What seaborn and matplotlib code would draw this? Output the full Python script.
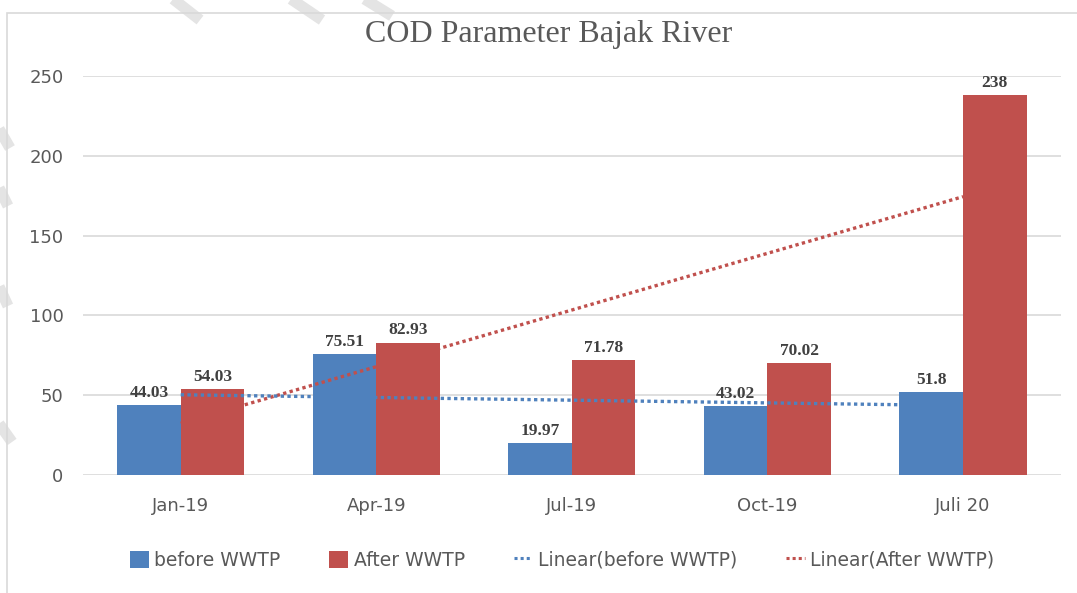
import matplotlib
matplotlib.use('Agg')
import matplotlib.pyplot as plt
from matplotlib.patches import Patch, Rectangle
from matplotlib.lines import Line2D
import pandas as pd
import seaborn as sns
import numpy as np

months = ['Jan-19', 'Apr-19', 'Jul-19', 'Oct-19', 'Juli 20']
before_wwtp = [44.03, 75.51, 19.97, 43.02, 51.8]
after_wwtp = [54.03, 82.93, 71.78, 70.02, 238]
series_names = ['before WWTP', 'After WWTP']

blue = '#4F81BD'
red = '#C0504D'
grey_txt = '#595959'

df = pd.DataFrame({
    'month': months * 2,
    'value': before_wwtp + after_wwtp,
    'series': [series_names[0]] * len(months) + [series_names[1]] * len(months),
})

sns.set_theme(style='white')
plt.rcParams['font.family'] = ['DejaVu Sans']

fig = plt.figure(figsize=(10.77, 5.93), dpi=100)
ax = fig.add_axes([0.077, 0.199, 0.908, 0.673])

group_w = 0.65
sns.barplot(data=df, x='month', y='value', hue='series', palette=[blue, red],
            width=group_w, saturation=1, ax=ax, legend=False, errorbar=None,
            edgecolor='none')

bar_w = group_w / 2
for p in ax.containers[0]:
    p.set_zorder(2)
for p in ax.containers[1]:
    p.set_zorder(3)

# value labels
for cont, vals in zip(ax.containers, [before_wwtp, after_wwtp]):
    ax.bar_label(cont, labels=['{:g}'.format(v) for v in vals], padding=3,
                 fontsize=12.5, fontweight='bold', color='#404040',
                 family='Liberation Serif', zorder=6)

# linear trend lines (Excel style)
xi = np.arange(len(months))
kb = np.polyfit(xi, before_wwtp, 1)
ka = np.polyfit(xi, after_wwtp, 1)
xb = np.array([0, len(months) - 1 - bar_w])
xa = np.array([0, len(months) - 1])
ax.plot(xb, np.polyval(kb, xb), color=blue, lw=2.4, ls=(0, (1, 1)),
        zorder=4, dash_capstyle='butt')
ax.plot(xa, np.polyval(ka, xa), color=red, lw=2.4, ls=(0, (1, 1)),
        zorder=2.5, dash_capstyle='butt')

ax.set_xlim(-0.5, len(months) - 0.5)
ax.set_ylim(0, 250)
ax.set_yticks(range(0, 251, 50))
ax.yaxis.grid(True, color='#d9d9d9', lw=1.2)
ax.set_axisbelow(True)
for s in ax.spines.values():
    s.set_visible(False)
ax.tick_params(axis='both', length=0, labelsize=13, labelcolor=grey_txt)
ax.tick_params(axis='y', pad=14)
ax.tick_params(axis='x', pad=16)
ax.set_xlabel('')
ax.set_ylabel('')

fig.text(0.509, 0.942, 'COD Parameter Bajak River', ha='center', va='center',
         fontsize=23, color=grey_txt, family='Liberation Serif')

handles = [
    Patch(facecolor=blue, edgecolor='none'),
    Patch(facecolor=red, edgecolor='none'),
    Line2D([], [], color=blue, lw=2.2, ls=(0, (1, 1))),
    Line2D([], [], color=red, lw=2.2, ls=(0, (1, 1))),
]
labels = ['before WWTP', 'After WWTP', 'Linear(before WWTP)', 'Linear(After WWTP)']
fig.legend(handles, labels, loc='center', bbox_to_anchor=(0.522, 0.055), ncol=4,
           frameon=False, fontsize=13.5, labelcolor=grey_txt, handlelength=1.0,
           handleheight=1.0, handletextpad=0.3, columnspacing=2.6)

# chart frame
fig.add_artist(Rectangle((7 / 1077, -0.01), 1.02, 1 - 13 / 593 + 0.01,
                         transform=fig.transFigure, fill=False,
                         edgecolor='#d9d9d9', lw=1.2))

# faint diagonal watermark strokes
strokes = [((168, -5), (200, 20)), ((285, -5), (322, 20)), ((358, -5), (392, 16)),
           ((-5, 122), (10, 148)), ((-5, 180), (8, 206)), ((-5, 278), (8, 306)),
           ((-5, 418), (12, 442))]
for (x0, y0), (x1, y1) in strokes:
    fig.add_artist(Line2D([x0 / 1077, x1 / 1077], [1 - y0 / 593, 1 - y1 / 593],
                          transform=fig.transFigure, color='#e4e4e4', lw=8,
                          solid_capstyle='butt', zorder=0))

fig.savefig('out.png', dpi=100, facecolor='white')
